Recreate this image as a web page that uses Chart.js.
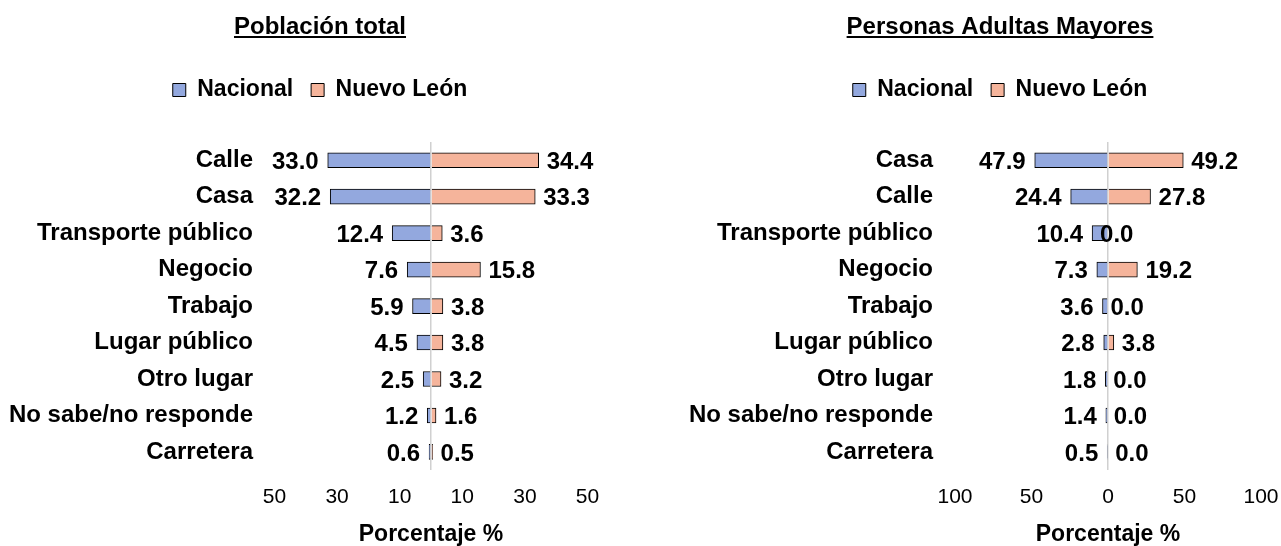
<!DOCTYPE html>
<html lang="es">
<head>
<meta charset="utf-8">
<title>Lugar de ocurrencia</title>
<script src="https://cdn.jsdelivr.net/npm/chart.js@4.4.1/dist/chart.umd.min.js"></script>
<style>
  html, body { margin: 0; padding: 0; background: #fff; overflow: hidden; }
  .panel { position: absolute; top: 0; width: 640px; height: 546px; }
  #panelTotal { left: 0; }
  #panelMayores { left: 680px; }
</style>
</head>
<body>
<div class="panel" id="panelTotal"><canvas id="chartTotal" width="640" height="546"></canvas></div>
<div class="panel" id="panelMayores"><canvas id="chartMayores" width="640" height="546"></canvas></div>
<script>
Chart.defaults.font.family = "'Liberation Sans', Arial, sans-serif";
Chart.defaults.color = '#000';

// Población total
const totalLugares = ['Calle', 'Casa', 'Transporte público', 'Negocio', 'Trabajo', 'Lugar público', 'Otro lugar', 'No sabe/no responde', 'Carretera'];
const totalNacional = [33.0, 32.2, 12.4, 7.6, 5.9, 4.5, 2.5, 1.2, 0.6];
const totalNuevoLeon = [34.4, 33.3, 3.6, 15.8, 3.8, 3.8, 3.2, 1.6, 0.5];
const totalTicks = [-50, -30, -10, 0, 10, 30, 50];
const totalTickLabels = ['50', '30', '10', '', '10', '30', '50'];

// Personas Adultas Mayores
const mayoresLugares = ['Casa', 'Calle', 'Transporte público', 'Negocio', 'Trabajo', 'Lugar público', 'Otro lugar', 'No sabe/no responde', 'Carretera'];
const mayoresNacional = [47.9, 24.4, 10.4, 7.3, 3.6, 2.8, 1.8, 1.4, 0.5];
const mayoresNuevoLeon = [49.2, 27.8, 0.0, 19.2, 0.0, 3.8, 0.0, 0.0, 0.0];
const mayoresTicks = [-100, -50, 0, 50, 100];
const mayoresTickLabels = ['100', '50', '0', '50', '100'];

const COLOR_NACIONAL = '#93a8de';
const COLOR_NUEVO_LEON = '#f5b49b';

// deja aire entre la leyenda y las barras
const legendGap = {
    id: 'legendGap',
    beforeInit(chart) {
        const fit = chart.legend.fit;
        chart.legend.fit = function () {
            fit.call(this);
            this.height += 30.5;
        };
    }
};

// subrayado del título
const underlineTitle = {
    id: 'underlineTitle',
    afterDraw(chart) {
        const tb = chart.titleBlock;
        const ctx = chart.ctx;
        ctx.save();
        ctx.font = "bold 24px 'Liberation Sans', Arial, sans-serif";
        const w = ctx.measureText(chart.options.plugins.title.text).width;
        const cx = (tb.left + tb.right) / 2;
        ctx.fillStyle = '#000';
        ctx.fillRect(cx - w / 2, 36, w, 2);
        ctx.restore();
    }
};

// etiquetas de valor a cada lado
const barValues = {
    id: 'barValues',
    afterDatasetsDraw(chart) {
        const ctx = chart.ctx;
        ctx.save();
        ctx.font = "bold 24px 'Liberation Sans', Arial, sans-serif";
        ctx.fillStyle = '#000';
        ctx.textBaseline = 'middle';
        chart.data.datasets.forEach((ds, i) => {
            chart.getDatasetMeta(i).data.forEach((bar, j) => {
                const txt = Math.abs(ds.data[j]).toFixed(1);
                if (i === 0) {
                    ctx.textAlign = 'right';
                    ctx.fillText(txt, bar.x - 9, bar.y + 2);
                } else {
                    ctx.textAlign = 'left';
                    ctx.fillText(txt, bar.x + 8, bar.y + 2);
                }
            });
        });
        ctx.restore();
    }
};

function createPanel(canvasId, titulo, lugares, nacional, nuevoLeon, ticks, tickLabels, yWidth, rightWidth, labelGap) {
    new Chart(document.getElementById(canvasId), {
        type: 'bar',
        data: {
            labels: lugares,
            datasets: [{
                label: 'Nacional',
                data: nacional.map(v => -v),
                backgroundColor: COLOR_NACIONAL,
                borderColor: '#000',
                borderWidth: 1,
                barThickness: 15
            }, {
                label: 'Nuevo León',
                data: nuevoLeon,
                backgroundColor: COLOR_NUEVO_LEON,
                borderColor: '#000',
                borderWidth: 1,
                barThickness: 15
            }]
        },
        options: {
            indexAxis: 'y',
            responsive: false,
            animation: false,
            layout: { padding: 0 },
            plugins: {
                title: {
                    display: true,
                    text: titulo,
                    color: '#000',
                    font: { size: 24, weight: 'bold' },
                    padding: { top: 13, bottom: 18.7 }
                },
                legend: {
                    position: 'top',
                    labels: {
                        boxWidth: 13,
                        boxHeight: 13,
                        padding: 18,
                        color: '#000',
                        font: { size: 23, weight: 'bold' }
                    }
                },
                tooltip: { enabled: false }
            },
            scales: {
                x: {
                    stacked: true,
                    min: ticks[0],
                    max: ticks[ticks.length - 1],
                    z: 1,
                    afterBuildTicks: scale => { scale.ticks = ticks.map(v => ({ value: v })); },
                    ticks: {
                        autoSkip: false,
                        maxRotation: 0,
                        padding: 14.4,
                        color: '#000',
                        font: { size: 21 },
                        callback: (v, i) => tickLabels[i]
                    },
                    grid: {
                        drawTicks: false,
                        lineWidth: 1.5,
                        color: c => (c.tick && c.tick.value === 0) ? '#d0d0d0' : 'rgba(0,0,0,0)'
                    },
                    border: { display: false },
                    title: {
                        display: true,
                        text: 'Porcentaje %',
                        color: '#000',
                        font: { size: 23, weight: 'bold', lineHeight: 0.95 },
                        padding: { top: 0, bottom: 0 }
                    }
                },
                y: {
                    stacked: true,
                    grid: { display: false, drawTicks: false },
                    border: { display: false },
                    ticks: {
                        autoSkip: false,
                        padding: labelGap,
                        color: '#000',
                        font: { size: 24, weight: 'bold' }
                    },
                    afterFit: s => { s.width = yWidth; }
                },
                margen: {
                    type: 'category',
                    position: 'right',
                    grid: { display: false, drawTicks: false },
                    border: { display: false },
                    ticks: { display: false },
                    afterFit: s => { s.width = rightWidth; }
                }
            }
        },
        plugins: [legendGap, underlineTitle, barValues]
    });
}

createPanel('chartTotal', 'Población total', totalLugares, totalNacional, totalNuevoLeon,
    totalTicks, totalTickLabels, 274.5, 52.5, 21.5);
createPanel('chartMayores', 'Personas Adultas Mayores', mayoresLugares, mayoresNacional, mayoresNuevoLeon,
    mayoresTicks, mayoresTickLabels, 275, 59, 22);
</script>
</body>
</html>
